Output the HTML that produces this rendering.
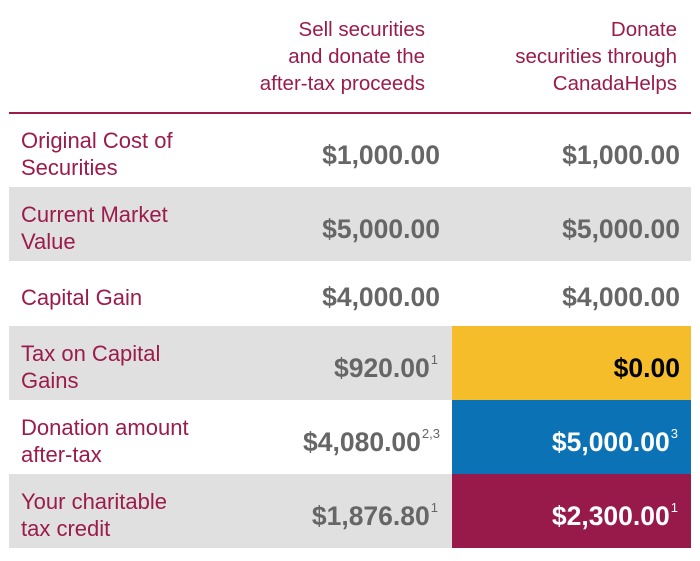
<!DOCTYPE html>
<html><head><style>
body{margin:0;width:700px;height:561px;background:#fff;font-family:"Liberation Sans",sans-serif;position:relative;overflow:hidden}
.h{position:absolute;top:16px;color:#9b1b4b;font-size:20.5px;line-height:27px;text-align:right}
.line{position:absolute;left:9px;width:682px;top:112px;height:2px;background:#9b1b4b}
.row{position:absolute;left:9px;width:682px}
.g{background:#e0e0e0}
.lab{position:absolute;left:12px;color:#9b1b4b;font-size:22px;line-height:27px}
.v{position:absolute;font-weight:bold;font-size:26.5px;color:#666;text-align:right}
.v sup{font-weight:normal;font-size:13px;vertical-align:top;position:relative;top:-1px;margin-left:1px}
.c{position:absolute;left:443px;width:239px;top:0;bottom:0}
</style></head><body>
<div class="h" style="right:275px">Sell securities<br>and donate the<br>after-tax proceeds</div>
<div class="h" style="right:23px">Donate<br>securities through<br>CanadaHelps</div>
<div class="line"></div>

<div class="row" style="top:114px;height:73px">
<div class="lab" style="top:13px">Original Cost of<br>Securities</div>
<div class="v" style="right:251px;top:26px">$1,000.00</div>
<div class="v" style="right:11px;top:26px">$1,000.00</div>
</div>
<div class="row g" style="top:187px;height:74px">
<div class="lab" style="top:14px">Current Market<br>Value</div>
<div class="v" style="right:251px;top:27px">$5,000.00</div>
<div class="v" style="right:11px;top:27px">$5,000.00</div>
</div>
<div class="row" style="top:261px;height:65px">
<div class="lab" style="top:23px">Capital Gain</div>
<div class="v" style="right:251px;top:21px">$4,000.00</div>
<div class="v" style="right:11px;top:21px">$4,000.00</div>
</div>
<div class="row g" style="top:326px;height:74px">
<div class="c" style="background:#f5bd2a"></div>
<div class="lab" style="top:14px">Tax on Capital<br>Gains</div>
<div class="v" style="right:253px;top:27px">$920.00<sup>1</sup></div>
<div class="v" style="right:11px;top:27px;color:#000">$0.00</div>
</div>
<div class="row" style="top:400px;height:74px">
<div class="c" style="background:#0b72b5"></div>
<div class="lab" style="top:14px">Donation amount<br>after-tax</div>
<div class="v" style="right:251px;top:27px">$4,080.00<sup>2,3</sup></div>
<div class="v" style="right:13px;top:27px;color:#fff">$5,000.00<sup>3</sup></div>
</div>
<div class="row g" style="top:474px;height:74px">
<div class="c" style="background:#981a4b"></div>
<div class="lab" style="top:14px">Your charitable<br>tax credit</div>
<div class="v" style="right:253px;top:27px">$1,876.80<sup>1</sup></div>
<div class="v" style="right:13px;top:27px;color:#fff">$2,300.00<sup>1</sup></div>
</div>
</body></html>
